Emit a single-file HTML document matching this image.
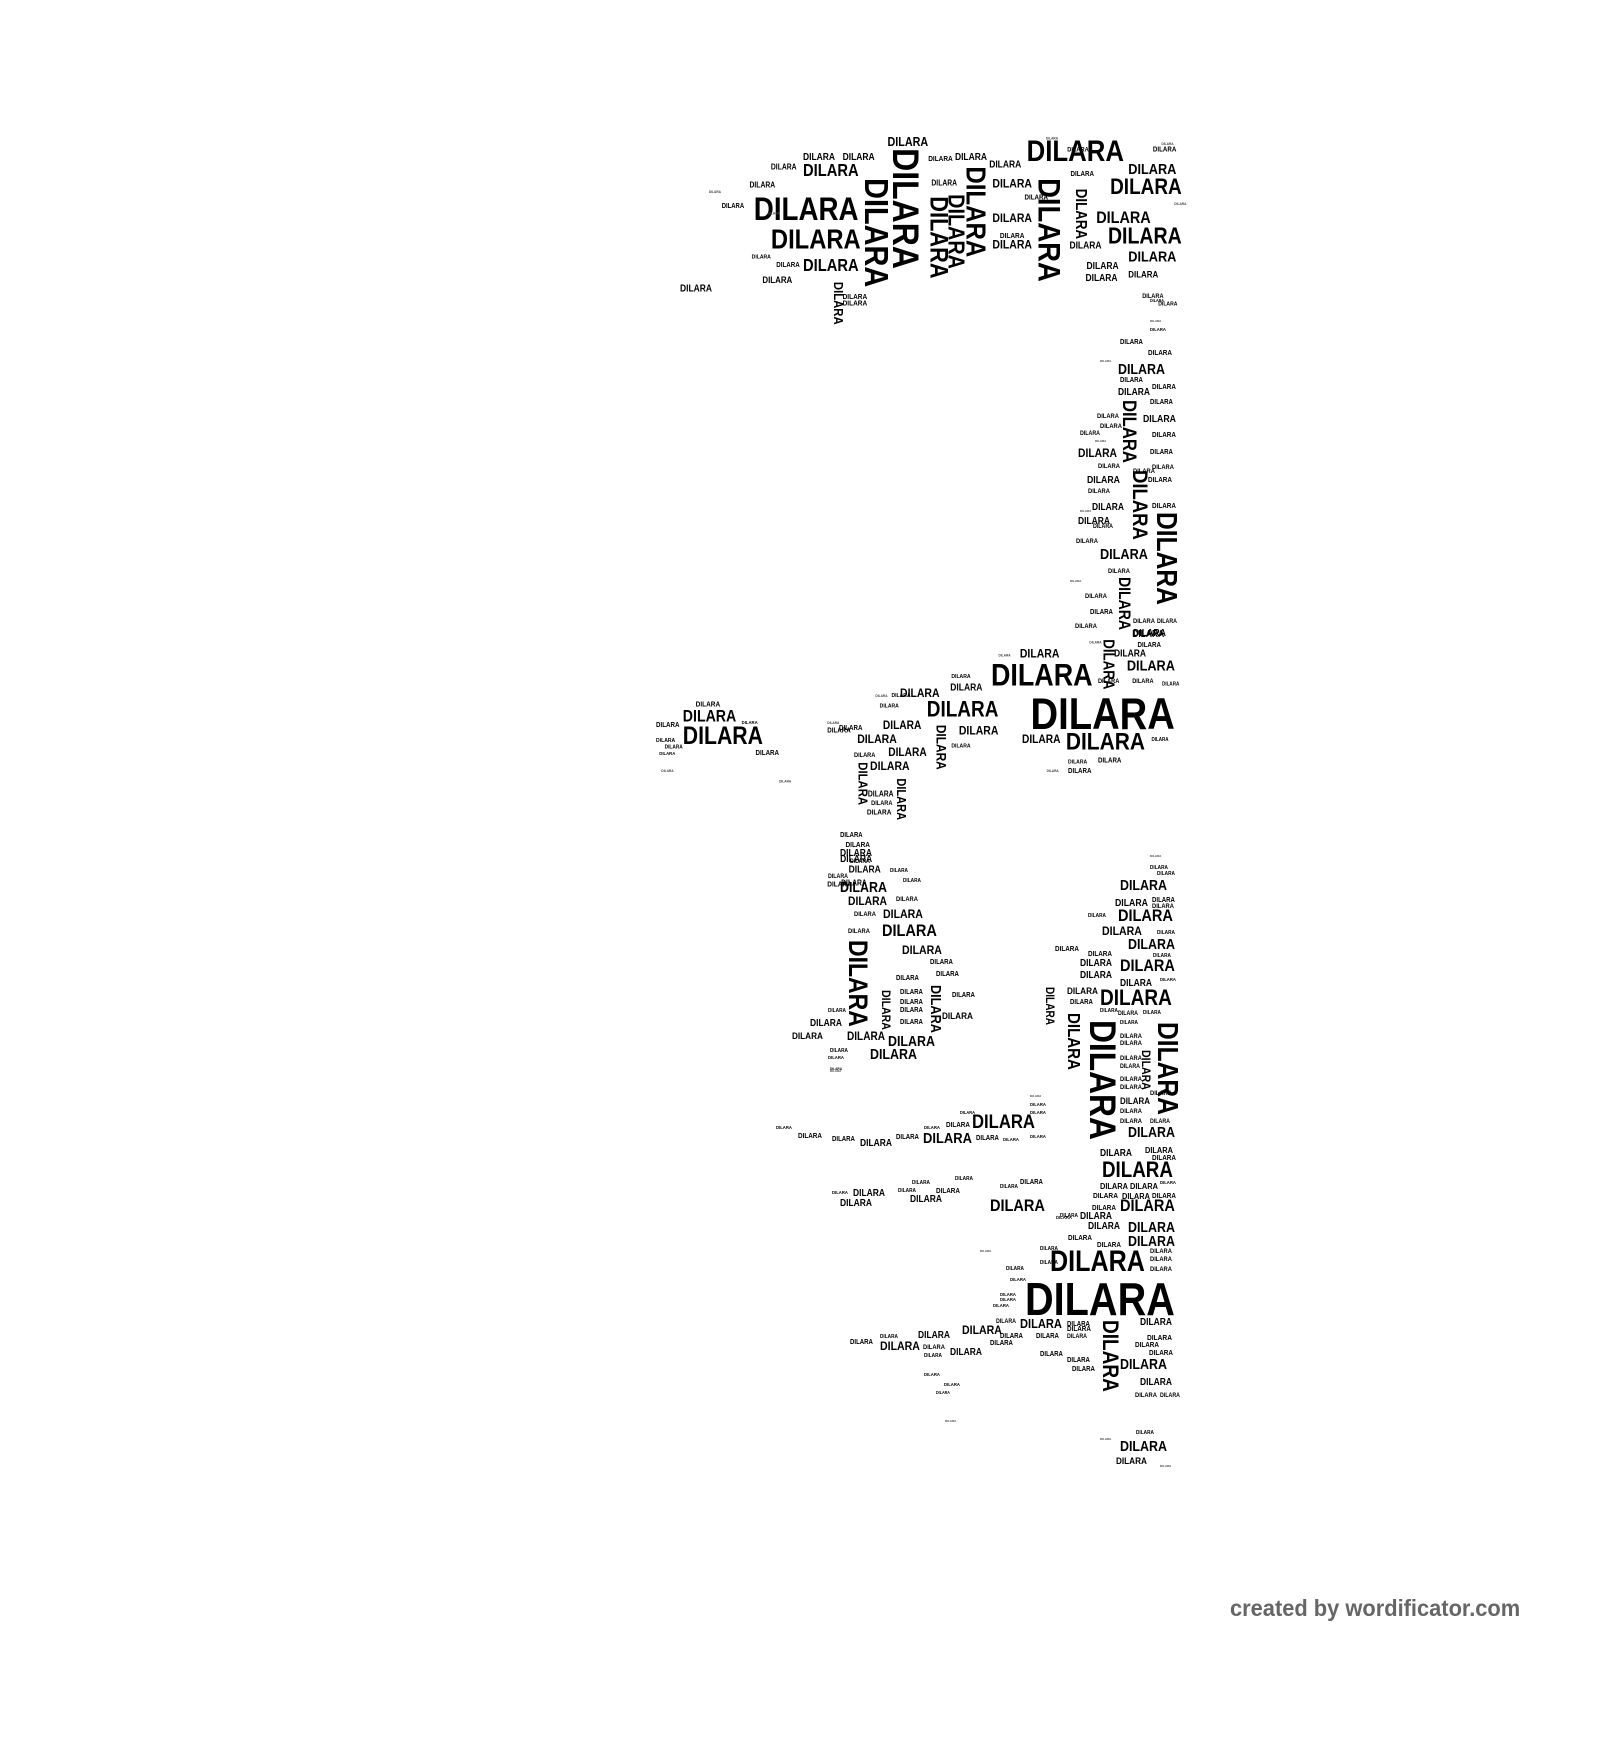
<!DOCTYPE html>
<html><head><meta charset="utf-8"><style>
html,body{margin:0;padding:0;background:#fff;}
body{width:1600px;height:1640px;position:relative;overflow:hidden;font-family:"Liberation Sans",Arial,sans-serif;}
i{font-style:normal;position:absolute;white-space:nowrap;font-weight:bold;line-height:1;transform-origin:0 0;color:#000;}
.h{left:calc(var(--x)*1px);top:calc(var(--y)*1px - var(--w)*0.04px);font-size:calc(var(--w)*1px/3.25);transform:scaleX(.86);}
.v{left:calc(var(--r)*1px + var(--h)*0.04px);top:calc(var(--y)*1px);font-size:calc(var(--h)*1px/3.25);transform:rotate(90deg) scaleX(.86);}
.t{font-size:3px;color:#444;transform:none;}
.g{position:absolute;left:0;top:0;width:1600px;height:1640px;}
.g2{transform-origin:650px 100px;transform:scale(1.07);}
.g3{transform-origin:640px 620px;transform:scale(1.07);}
.f{position:absolute;left:1230px;top:1595px;font-size:23px;font-weight:bold;color:#666;transform:scaleX(.95);transform-origin:0 0;white-space:nowrap;}
</style></head><body>
<div class="g g2">
<i class=h style="--x:1002;--y:138;--w:91">DILARA</i>
<i class=h style="--x:747;--y:192;--w:98">DILARA</i>
<i class=h style="--x:763;--y:222;--w:84">DILARA</i>
<i class=h style="--x:793;--y:161;--w:52">DILARA</i>
<i class=h style="--x:793;--y:250;--w:52">DILARA</i>
<i class=h style="--x:872;--y:136;--w:38">DILARA</i>
<i class=h style="--x:830;--y:150;--w:30">DILARA</i>
<i class=h style="--x:793;--y:150;--w:30">DILARA</i>
<i class=v style="--r:873;--y:173;--h:102">DILARA</i>
<i class=v style="--r:900;--y:145;--h:113">DILARA</i>
<i class=v style="--r:927;--y:190;--h:77">DILARA</i>
<i class=v style="--r:943;--y:188;--h:70">DILARA</i>
<i class=v style="--r:965;--y:162;--h:85">DILARA</i>
<i class=v style="--r:1033;--y:173;--h:97">DILARA</i>
<i class=v style="--r:1057;--y:183;--h:47">DILARA</i>
<i class=v style="--r:830;--y:270;--h:40">DILARA</i>
<i class=h style="--x:1080;--y:175;--w:67">DILARA</i>
<i class=h style="--x:1078;--y:220;--w:69">DILARA</i>
<i class=h style="--x:1067;--y:205;--w:51">DILARA</i>
<i class=h style="--x:1097;--y:160;--w:45">DILARA</i>
<i class=h style="--x:1097;--y:242;--w:45">DILARA</i>
<i class=h style="--x:970;--y:175;--w:37">DILARA</i>
<i class=h style="--x:970;--y:207;--w:37">DILARA</i>
<i class=h style="--x:970;--y:232;--w:37">DILARA</i>
<i class=h style="--x:967;--y:157;--w:30">DILARA</i>
<i class=h style="--x:935;--y:150;--w:30">DILARA</i>
<i class=h style="--x:743;--y:177;--w:24">DILARA</i>
<i class=h style="--x:763;--y:160;--w:24">DILARA</i>
<i class=h style="--x:717;--y:198;--w:21">DILARA</i>
<i class=h style="--x:755;--y:265;--w:28">DILARA</i>
<i class=h style="--x:678;--y:273;--w:30">DILARA</i>
<i class=h style="--x:768;--y:253;--w:22">DILARA</i>
<i class=h style="--x:910;--y:153;--w:23">DILARA</i>
<i class=h style="--x:913;--y:175;--w:24">DILARA</i>
<i class=h style="--x:1043;--y:168;--w:22">DILARA</i>
<i class=h style="--x:1057;--y:263;--w:30">DILARA</i>
<i class=h style="--x:1042;--y:233;--w:30">DILARA</i>
<i class=h style="--x:1058;--y:252;--w:30">DILARA</i>
<i class=h style="--x:1097;--y:260;--w:28">DILARA</i>
<i class=h style="--x:977;--y:225;--w:23">DILARA</i>
<i class=h style="--x:830;--y:282;--w:23">DILARA</i>
<i class=h style="--x:830;--y:288;--w:23">DILARA</i>
<i class=h style="--x:1110;--y:282;--w:20">DILARA</i>
<i class=h style="--x:1125;--y:290;--w:18">DILARA</i>
<i class=h style="--x:1000;--y:190;--w:22">DILARA</i>
<i class=h style="--x:1040;--y:145;--w:20">DILARA</i>
<i class=h style="--x:1120;--y:145;--w:22">DILARA</i>
<i class=h style="--x:745;--y:246;--w:18">DILARA</i>
<i class="h t" style="left:1020px;top:135px">DILARA</i>
<i class="h t" style="left:1128px;top:140px">DILARA</i>
<i class="h t" style="left:1140px;top:196px">DILARA</i>
<i class="h t" style="left:760px;top:205px">DILARA</i>
<i class="h t" style="left:705px;top:185px">DILARA</i>
</div>

<!-- right column -->
<i class=h style="--x:1150;--y:300;--w:14">DILARA</i>
<i class=h style="--x:1118;--y:365;--w:47">DILARA</i>
<i class=h style="--x:1120;--y:340;--w:23">DILARA</i>
<i class=h style="--x:1148;--y:350;--w:24">DILARA</i>
<i class=h style="--x:1118;--y:389;--w:32">DILARA</i>
<i class=h style="--x:1120;--y:378;--w:23">DILARA</i>
<i class=h style="--x:1152;--y:384;--w:24">DILARA</i>
<i class=h style="--x:1150;--y:400;--w:23">DILARA</i>
<i class=v style="--r:1135;--y:400;--h:63">DILARA</i>
<i class=h style="--x:1143;--y:416;--w:33">DILARA</i>
<i class=h style="--x:1152;--y:432;--w:24">DILARA</i>
<i class=h style="--x:1078;--y:449;--w:39">DILARA</i>
<i class=h style="--x:1150;--y:450;--w:23">DILARA</i>
<i class=v style="--r:1147;--y:470;--h:70">DILARA</i>
<i class=h style="--x:1087;--y:477;--w:33">DILARA</i>
<i class=h style="--x:1148;--y:477;--w:24">DILARA</i>
<i class=h style="--x:1092;--y:504;--w:32">DILARA</i>
<i class=h style="--x:1078;--y:518;--w:32">DILARA</i>
<i class=v style="--r:1176;--y:512;--h:93">DILARA</i>
<i class=h style="--x:1100;--y:550;--w:48">DILARA</i>
<i class=v style="--r:1130;--y:577;--h:53">DILARA</i>
<i class=h style="--x:1090;--y:610;--w:23">DILARA</i>
<i class=h style="--x:1133;--y:630;--w:33">DILARA</i>
<i class=h style="--x:1152;--y:503;--w:24">DILARA</i>
<i class=h style="--x:1097;--y:415;--w:22">DILARA</i>
<i class=h style="--x:1080;--y:432;--w:20">DILARA</i>
<i class=h style="--x:1100;--y:425;--w:22">DILARA</i>
<i class=h style="--x:1098;--y:465;--w:22">DILARA</i>
<i class=h style="--x:1088;--y:490;--w:22">DILARA</i>
<i class=h style="--x:1076;--y:540;--w:22">DILARA</i>
<i class=h style="--x:1093;--y:525;--w:20">DILARA</i>
<i class=h style="--x:1108;--y:570;--w:22">DILARA</i>
<i class=h style="--x:1085;--y:595;--w:22">DILARA</i>
<i class=h style="--x:1075;--y:625;--w:22">DILARA</i>
<i class=h style="--x:1133;--y:620;--w:22">DILARA</i>
<i class=h style="--x:1157;--y:620;--w:20">DILARA</i>
<i class=h style="--x:1133;--y:470;--w:22">DILARA</i>
<i class=h style="--x:1152;--y:466;--w:22">DILARA</i>
<i class=h style="--x:1150;--y:330;--w:16">DILARA</i>
<i class="h t" style="left:1150px;top:320px">DILARA</i>
<i class="h t" style="left:1100px;top:360px">DILARA</i>
<i class="h t" style="left:1095px;top:440px">DILARA</i>
<i class="h t" style="left:1080px;top:510px">DILARA</i>
<i class="h t" style="left:1070px;top:580px">DILARA</i>

<div class="g g3">
<i class=h style="--x:1005;--y:692;--w:135">DILARA</i>
<i class=h style="--x:968;--y:662;--w:95">DILARA</i>
<i class=h style="--x:1038;--y:725;--w:74">DILARA</i>
<i class=h style="--x:908;--y:697;--w:67">DILARA</i>
<i class=h style="--x:1095;--y:658;--w:45">DILARA</i>
<i class=h style="--x:1083;--y:648;--w:30">DILARA</i>
<i class=h style="--x:1100;--y:630;--w:30">DILARA</i>
<i class=h style="--x:995;--y:648;--w:37">DILARA</i>
<i class=h style="--x:997;--y:728;--w:36">DILARA</i>
<i class=h style="--x:938;--y:720;--w:37">DILARA</i>
<i class=h style="--x:930;--y:680;--w:30">DILARA</i>
<i class=h style="--x:883;--y:685;--w:37">DILARA</i>
<i class=h style="--x:867;--y:715;--w:36">DILARA</i>
<i class=h style="--x:843;--y:728;--w:37">DILARA</i>
<i class=h style="--x:872;--y:740;--w:36">DILARA</i>
<i class=h style="--x:855;--y:753;--w:37">DILARA</i>
<i class=v style="--r:1082;--y:638;--h:47">DILARA</i>
<i class=v style="--r:925;--y:718;--h:42">DILARA</i>
<i class=v style="--r:852;--y:753;--h:40">DILARA</i>
<i class=v style="--r:888;--y:768;--h:39">DILARA</i>
<i class=h style="--x:1068;--y:676;--w:20">DILARA</i>
<i class=h style="--x:1100;--y:676;--w:20">DILARA</i>
<i class=h style="--x:1128;--y:680;--w:16">DILARA</i>
<i class=h style="--x:1105;--y:642;--w:22">DILARA</i>
<i class=h style="--x:1118;--y:732;--w:16">DILARA</i>
<i class=h style="--x:1068;--y:750;--w:22">DILARA</i>
<i class=h style="--x:1040;--y:760;--w:22">DILARA</i>
<i class=h style="--x:1040;--y:752;--w:18">DILARA</i>
<i class=h style="--x:931;--y:672;--w:18">DILARA</i>
<i class=h style="--x:875;--y:690;--w:18">DILARA</i>
<i class=h style="--x:864;--y:700;--w:18">DILARA</i>
<i class=h style="--x:826;--y:720;--w:22">DILARA</i>
<i class=h style="--x:815;--y:722;--w:22">DILARA</i>
<i class=h style="--x:931;--y:737;--w:18">DILARA</i>
<i class=h style="--x:853;--y:780;--w:24">DILARA</i>
<i class=h style="--x:852;--y:798;--w:23">DILARA</i>
<i class=h style="--x:856;--y:790;--w:20">DILARA</i>
<i class=h style="--x:840;--y:745;--w:20">DILARA</i>
<i class=h style="--x:680;--y:705;--w:50">DILARA</i>
<i class=h style="--x:680;--y:720;--w:75">DILARA</i>
<i class=h style="--x:692;--y:697;--w:23">DILARA</i>
<i class=h style="--x:655;--y:717;--w:22">DILARA</i>
<i class=h style="--x:748;--y:743;--w:22">DILARA</i>
<i class=h style="--x:655;--y:732;--w:18">DILARA</i>
<i class=h style="--x:663;--y:738;--w:17">DILARA</i>
<i class=h style="--x:658;--y:744;--w:15">DILARA</i>
<i class=h style="--x:735;--y:715;--w:15">DILARA</i>
<i class=h style="--x:827;--y:820;--w:21">DILARA</i>
<i class=h style="--x:832;--y:828;--w:23">DILARA</i>
<i class=h style="--x:827;--y:840;--w:30">DILARA</i>
<i class=h style="--x:835;--y:850;--w:30">DILARA</i>
<i class=h style="--x:815;--y:865;--w:23">DILARA</i>
<i class=h style="--x:828;--y:863;--w:24">DILARA</i>
<i class="h t" style="left:1060px;top:640px">DILARA</i>
<i class="h t" style="left:975px;top:652px">DILARA</i>
<i class="h t" style="left:860px;top:690px">DILARA</i>
<i class="h t" style="left:815px;top:715px">DILARA</i>
<i class="h t" style="left:1020px;top:760px">DILARA</i>
<i class="h t" style="left:770px;top:770px">DILARA</i>
<i class="h t" style="left:660px;top:760px">DILARA</i>
</div>

<i class=h style="--x:840;--y:850;--w:32">DILARA</i>
<i class=h style="--x:850;--y:860;--w:20">DILARA</i>
<i class=h style="--x:828;--y:875;--w:20">DILARA</i>
<i class=h style="--x:890;--y:870;--w:18">DILARA</i>
<i class=h style="--x:903;--y:880;--w:18">DILARA</i>
<!-- lower-left 'b' shape -->
<i class=h style="--x:840;--y:883;--w:47">DILARA</i>
<i class=h style="--x:848;--y:897;--w:39">DILARA</i>
<i class=h style="--x:883;--y:910;--w:40">DILARA</i>
<i class=h style="--x:882;--y:925;--w:55">DILARA</i>
<i class=h style="--x:902;--y:946;--w:40">DILARA</i>
<i class=h style="--x:896;--y:898;--w:22">DILARA</i>
<i class=h style="--x:854;--y:913;--w:22">DILARA</i>
<i class=h style="--x:848;--y:930;--w:22">DILARA</i>
<i class=v style="--r:868;--y:940;--h:87">DILARA</i>
<i class=v style="--r:890;--y:990;--h:40">DILARA</i>
<i class=v style="--r:940;--y:985;--h:48">DILARA</i>
<i class=h style="--x:888;--y:1037;--w:47">DILARA</i>
<i class=h style="--x:870;--y:1050;--w:47">DILARA</i>
<i class=h style="--x:847;--y:1033;--w:38">DILARA</i>
<i class=h style="--x:792;--y:1033;--w:31">DILARA</i>
<i class=h style="--x:810;--y:1020;--w:32">DILARA</i>
<i class=h style="--x:942;--y:1013;--w:31">DILARA</i>
<i class=h style="--x:952;--y:993;--w:23">DILARA</i>
<i class=h style="--x:900;--y:990;--w:23">DILARA</i>
<i class=h style="--x:900;--y:1000;--w:23">DILARA</i>
<i class=h style="--x:900;--y:1008;--w:23">DILARA</i>
<i class=h style="--x:900;--y:1020;--w:23">DILARA</i>
<i class=h style="--x:930;--y:960;--w:23">DILARA</i>
<i class=h style="--x:936;--y:972;--w:23">DILARA</i>
<i class=h style="--x:896;--y:976;--w:23">DILARA</i>
<i class=h style="--x:828;--y:1010;--w:18">DILARA</i>
<i class=h style="--x:830;--y:1050;--w:18">DILARA</i>
<i class=h style="--x:828;--y:1058;--w:16">DILARA</i>
<i class=h style="--x:830;--y:1068;--w:12">DILARA</i>
<!-- right lower block -->
<i class=h style="--x:1120;--y:881;--w:47">DILARA</i>
<i class=h style="--x:1118;--y:910;--w:55">DILARA</i>
<i class=h style="--x:1128;--y:940;--w:47">DILARA</i>
<i class=h style="--x:1120;--y:960;--w:55">DILARA</i>
<i class=h style="--x:1100;--y:990;--w:72">DILARA</i>
<i class=h style="--x:1102;--y:927;--w:40">DILARA</i>
<i class=h style="--x:1115;--y:900;--w:33">DILARA</i>
<i class=h style="--x:1120;--y:980;--w:32">DILARA</i>
<i class=h style="--x:1080;--y:960;--w:32">DILARA</i>
<i class=h style="--x:1080;--y:972;--w:32">DILARA</i>
<i class=h style="--x:1067;--y:988;--w:31">DILARA</i>
<i class=h style="--x:1070;--y:1000;--w:23">DILARA</i>
<i class=h style="--x:1088;--y:951;--w:24">DILARA</i>
<i class=h style="--x:1055;--y:946;--w:24">DILARA</i>
<i class=h style="--x:1150;--y:867;--w:18">DILARA</i>
<i class=h style="--x:1157;--y:873;--w:18">DILARA</i>
<i class=h style="--x:1152;--y:898;--w:23">DILARA</i>
<i class=h style="--x:1152;--y:905;--w:22">DILARA</i>
<i class=h style="--x:1157;--y:932;--w:18">DILARA</i>
<i class=h style="--x:1153;--y:955;--w:18">DILARA</i>
<i class=h style="--x:1160;--y:980;--w:16">DILARA</i>
<i class=h style="--x:1088;--y:915;--w:18">DILARA</i>
<i class=h style="--x:1100;--y:1010;--w:18">DILARA</i>
<i class=h style="--x:1118;--y:1012;--w:20">DILARA</i>
<i class=h style="--x:1143;--y:1012;--w:18">DILARA</i>
<i class=h style="--x:1120;--y:1022;--w:18">DILARA</i>
<i class=v style="--r:1053;--y:987;--h:38">DILARA</i>
<i class=v style="--r:1080;--y:1013;--h:57">DILARA</i>
<i class=v style="--r:1115;--y:1020;--h:120">DILARA</i>
<i class=v style="--r:1177;--y:1022;--h:93">DILARA</i>
<i class=v style="--r:1150;--y:1050;--h:40">DILARA</i>
<i class=h style="--x:1120;--y:1035;--w:22">DILARA</i>
<i class=h style="--x:1120;--y:1042;--w:22">DILARA</i>
<i class=h style="--x:1120;--y:1057;--w:22">DILARA</i>
<i class=h style="--x:1120;--y:1065;--w:20">DILARA</i>
<i class=h style="--x:1120;--y:1078;--w:22">DILARA</i>
<i class=h style="--x:1120;--y:1086;--w:22">DILARA</i>
<i class=h style="--x:1120;--y:1098;--w:30">DILARA</i>
<i class=h style="--x:1120;--y:1110;--w:22">DILARA</i>
<i class=h style="--x:1120;--y:1120;--w:22">DILARA</i>
<i class=h style="--x:1150;--y:1092;--w:22">DILARA</i>
<i class=h style="--x:1150;--y:1120;--w:20">DILARA</i>
<!-- bottom bar -->
<i class=h style="--x:972;--y:1116;--w:63">DILARA</i>
<i class=h style="--x:923;--y:1133;--w:49">DILARA</i>
<i class=h style="--x:860;--y:1140;--w:32">DILARA</i>
<i class=h style="--x:832;--y:1137;--w:23">DILARA</i>
<i class=h style="--x:896;--y:1135;--w:23">DILARA</i>
<i class=h style="--x:976;--y:1136;--w:23">DILARA</i>
<i class=h style="--x:798;--y:1133;--w:24">DILARA</i>
<i class=h style="--x:776;--y:1128;--w:16">DILARA</i>
<i class=h style="--x:946;--y:1122;--w:24">DILARA</i>
<i class=h style="--x:960;--y:1112;--w:15">DILARA</i>
<i class=h style="--x:1003;--y:1140;--w:16">DILARA</i>
<i class=h style="--x:1030;--y:1105;--w:16">DILARA</i>
<i class=h style="--x:1030;--y:1113;--w:16">DILARA</i>
<i class=h style="--x:1030;--y:1137;--w:16">DILARA</i>
<i class=h style="--x:924;--y:1128;--w:16">DILARA</i>
<i class=h style="--x:1128;--y:1128;--w:47">DILARA</i>
<i class=h style="--x:1102;--y:1162;--w:71">DILARA</i>
<i class=h style="--x:1120;--y:1200;--w:55">DILARA</i>
<i class=h style="--x:1128;--y:1223;--w:47">DILARA</i>
<i class=h style="--x:1128;--y:1237;--w:47">DILARA</i>
<i class=h style="--x:1100;--y:1150;--w:32">DILARA</i>
<i class=h style="--x:1145;--y:1147;--w:28">DILARA</i>
<i class=h style="--x:1152;--y:1155;--w:24">DILARA</i>
<i class=h style="--x:1100;--y:1183;--w:28">DILARA</i>
<i class=h style="--x:1130;--y:1183;--w:28">DILARA</i>
<i class=h style="--x:1160;--y:1183;--w:16">DILARA</i>
<i class=h style="--x:1093;--y:1193;--w:25">DILARA</i>
<i class=h style="--x:1122;--y:1193;--w:28">DILARA</i>
<i class=h style="--x:1152;--y:1193;--w:24">DILARA</i>
<i class=h style="--x:1092;--y:1205;--w:24">DILARA</i>
<i class=h style="--x:1150;--y:1250;--w:22">DILARA</i>
<i class=h style="--x:1150;--y:1258;--w:22">DILARA</i>
<i class=h style="--x:1150;--y:1268;--w:22">DILARA</i>
<i class=h style="--x:1050;--y:1252;--w:95">DILARA</i>
<i class=h style="--x:1025;--y:1282;--w:150">DILARA</i>
<i class=h style="--x:990;--y:1200;--w:55">DILARA</i>
<i class=h style="--x:1080;--y:1213;--w:32">DILARA</i>
<i class=h style="--x:1088;--y:1223;--w:32">DILARA</i>
<i class=h style="--x:1068;--y:1235;--w:24">DILARA</i>
<i class=h style="--x:1097;--y:1242;--w:24">DILARA</i>
<i class=h style="--x:1060;--y:1215;--w:18">DILARA</i>
<i class=h style="--x:1040;--y:1248;--w:18">DILARA</i>
<i class=h style="--x:1040;--y:1262;--w:18">DILARA</i>
<i class=h style="--x:1006;--y:1268;--w:18">DILARA</i>
<i class=h style="--x:1010;--y:1280;--w:16">DILARA</i>
<i class=h style="--x:1000;--y:1295;--w:16">DILARA</i>
<i class=h style="--x:1000;--y:1300;--w:16">DILARA</i>
<i class=h style="--x:993;--y:1306;--w:16">DILARA</i>
<i class=h style="--x:1020;--y:1320;--w:42">DILARA</i>
<i class=h style="--x:962;--y:1326;--w:40">DILARA</i>
<i class=h style="--x:918;--y:1332;--w:32">DILARA</i>
<i class=h style="--x:880;--y:1342;--w:40">DILARA</i>
<i class=h style="--x:950;--y:1349;--w:32">DILARA</i>
<i class=h style="--x:850;--y:1340;--w:23">DILARA</i>
<i class=h style="--x:880;--y:1336;--w:18">DILARA</i>
<i class=h style="--x:990;--y:1341;--w:23">DILARA</i>
<i class=h style="--x:1000;--y:1334;--w:23">DILARA</i>
<i class=h style="--x:1036;--y:1334;--w:23">DILARA</i>
<i class=h style="--x:1067;--y:1322;--w:23">DILARA</i>
<i class=h style="--x:1067;--y:1335;--w:20">DILARA</i>
<i class=h style="--x:996;--y:1320;--w:20">DILARA</i>
<i class=h style="--x:923;--y:1346;--w:22">DILARA</i>
<i class=h style="--x:924;--y:1355;--w:18">DILARA</i>
<i class=h style="--x:924;--y:1375;--w:16">DILARA</i>
<i class=h style="--x:944;--y:1385;--w:16">DILARA</i>
<i class=h style="--x:936;--y:1392;--w:14">DILARA</i>
<i class=v style="--r:1118;--y:1320;--h:72">DILARA</i>
<i class=h style="--x:1120;--y:1360;--w:47">DILARA</i>
<i class=h style="--x:1140;--y:1379;--w:32">DILARA</i>
<i class=h style="--x:1140;--y:1319;--w:32">DILARA</i>
<i class=h style="--x:1147;--y:1335;--w:25">DILARA</i>
<i class=h style="--x:1149;--y:1350;--w:24">DILARA</i>
<i class=h style="--x:1135;--y:1342;--w:24">DILARA</i>
<i class=h style="--x:1067;--y:1326;--w:24">DILARA</i>
<i class=h style="--x:1040;--y:1352;--w:23">DILARA</i>
<i class=h style="--x:1067;--y:1358;--w:23">DILARA</i>
<i class=h style="--x:1072;--y:1367;--w:23">DILARA</i>
<i class=h style="--x:1135;--y:1394;--w:22">DILARA</i>
<i class=h style="--x:1160;--y:1394;--w:20">DILARA</i>
<i class=h style="--x:853;--y:1190;--w:32">DILARA</i>
<i class=h style="--x:840;--y:1200;--w:32">DILARA</i>
<i class=h style="--x:910;--y:1196;--w:32">DILARA</i>
<i class=h style="--x:936;--y:1188;--w:24">DILARA</i>
<i class=h style="--x:898;--y:1190;--w:18">DILARA</i>
<i class=h style="--x:912;--y:1182;--w:18">DILARA</i>
<i class=h style="--x:955;--y:1178;--w:18">DILARA</i>
<i class=h style="--x:832;--y:1193;--w:16">DILARA</i>
<i class=h style="--x:1000;--y:1186;--w:18">DILARA</i>
<i class=h style="--x:1020;--y:1180;--w:23">DILARA</i>
<i class=h style="--x:1056;--y:1218;--w:16">DILARA</i>
<i class=h style="--x:1120;--y:1442;--w:47">DILARA</i>
<i class=h style="--x:1116;--y:1458;--w:31">DILARA</i>
<i class=h style="--x:1136;--y:1432;--w:18">DILARA</i>
<i class="h t" style="left:1150px;top:855px">DILARA</i>
<i class="h t" style="left:830px;top:1070px">DILARA</i>
<i class="h t" style="left:1030px;top:1095px">DILARA</i>
<i class="h t" style="left:980px;top:1250px">DILARA</i>
<i class="h t" style="left:945px;top:1420px">DILARA</i>
<i class="h t" style="left:1100px;top:1438px">DILARA</i>
<i class="h t" style="left:1160px;top:1465px">DILARA</i>

<div class="f">created by wordificator.com</div>
</body></html>
